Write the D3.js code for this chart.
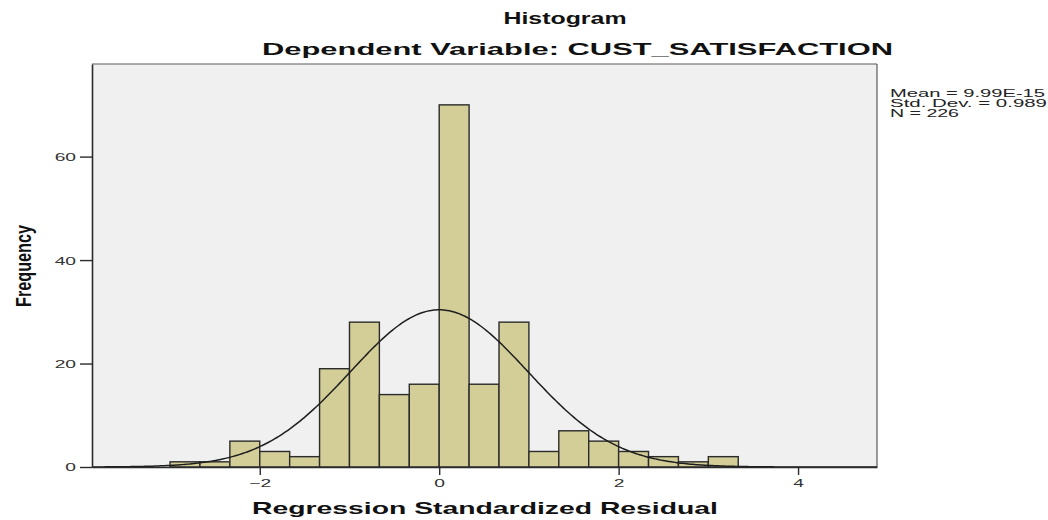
<!DOCTYPE html>
<html>
<head>
<meta charset="utf-8">
<script src="https://cdn.jsdelivr.net/npm/d3@7"></script>
<style>
  body { margin: 0; background: #fff; }
  svg { display: block; }
  text { font-family: "Liberation Sans", Arial, sans-serif; }
</style>
</head>
<body>
<svg id="chart" width="1048" height="520"></svg>
<script>
// ---- data ----
const binStarts = [-3, -8/3, -7/3, -2, -5/3, -4/3, -1, -2/3, -1/3, 0, 1/3, 2/3, 1, 4/3, 5/3, 2, 7/3, 8/3, 3];
const binWidth = 1/3;
const frequencies = [1, 1, 5, 3, 2, 19, 28, 14, 16, 70, 16, 28, 3, 7, 5, 3, 2, 1, 2];
const xTicks = [-2, 0, 2, 4];
const yTicks = [0, 20, 40, 60];
const statMean = 9.99e-15;
const statSD = 0.989;
const statN = 226;
const legendLines = ["Mean = 9.99E-15", "Std. Dev. = 0.989", "N = 226"];
const titleText = "Histogram";
const subtitleText = "Dependent Variable: CUST_SATISFACTION";
const xTitle = "Regression Standardized Residual";
const yTitle = "Frequency";

// ---- layout ----
const L = 92, R = 877, T = 64, B = 467;
const svg = d3.select("#chart");
const x = d3.scaleLinear().domain([-3.87, 4.88]).range([L, R]);
const y = d3.scaleLinear().domain([0, 77.9]).range([B, T]);
const SX = 1.75; // horizontal stretch of glyphs

// plot background
svg.append("rect").attr("x", L).attr("y", T).attr("width", R - L).attr("height", B - T)
  .attr("fill", "#f0f0f0");
svg.append("line").attr("x1", L).attr("x2", R).attr("y1", T).attr("y2", T)
  .attr("stroke", "#5a5a5a").attr("stroke-width", 1.2);
svg.append("line").attr("x1", R).attr("x2", R).attr("y1", T).attr("y2", B)
  .attr("stroke", "#5a5a5a").attr("stroke-width", 1.2);

// bars
svg.append("g").selectAll("rect").data(frequencies).join("rect")
  .attr("x", (d, i) => x(binStarts[i]))
  .attr("width", (d, i) => x(binStarts[i] + binWidth) - x(binStarts[i]))
  .attr("y", d => y(d))
  .attr("height", d => B - y(d))
  .attr("fill", "#d3ce98")
  .attr("stroke", "#2b2b2b")
  .attr("stroke-width", 1.4);

// normal curve
const pts = d3.range(0, 401).map(i => {
  const xv = x.domain()[0] + (x.domain()[1] - x.domain()[0]) * i / 400;
  const z = (xv - statMean) / statSD;
  const yv = statN * binWidth * Math.exp(-0.5 * z * z) / (statSD * Math.sqrt(2 * Math.PI));
  return [xv, yv];
});
svg.append("path").datum(pts)
  .attr("d", d3.line().x(d => x(d[0])).y(d => y(d[1])))
  .attr("fill", "none").attr("stroke", "#1e1e1e").attr("stroke-width", 1.5);

// axes
const xAxis = svg.append("g").attr("transform", `translate(0,${B})`)
  .call(d3.axisBottom(x).tickValues(xTicks).tickFormat(d3.format("d")).tickSize(8).tickSizeOuter(0));
const yAxis = svg.append("g").attr("transform", `translate(${L},0)`)
  .call(d3.axisLeft(y).tickValues(yTicks).tickFormat(d3.format("d")).tickSize(12).tickSizeOuter(0));

[xAxis, yAxis].forEach(a => {
  a.select(".domain").attr("stroke", "#2b2b2b").attr("stroke-width", 1.6);
  a.selectAll(".tick line").attr("stroke", "#2b2b2b").attr("stroke-width", 1.4);
  a.selectAll(".tick text").attr("fill", "#333").attr("font-size", 11)
    .attr("font-family", "'Liberation Sans', Arial, sans-serif");
});
xAxis.selectAll(".tick text").attr("y", 20).attr("dy", 0)
  .attr("transform", `scale(${SX},1)`);
yAxis.selectAll(".tick text").attr("x", -16 / SX).attr("dy", "0.36em")
  .attr("transform", `scale(${SX},1)`);

// titles
svg.append("text").attr("x", 565).attr("y", 24).attr("text-anchor", "middle")
  .attr("font-size", 17).attr("font-weight", "bold").attr("fill", "#111")
  .attr("textLength", 123).attr("lengthAdjust", "spacingAndGlyphs").text(titleText);
svg.append("text").attr("x", 577.5).attr("y", 55).attr("text-anchor", "middle")
  .attr("font-size", 17).attr("font-weight", "bold").attr("fill", "#111")
  .attr("textLength", 631).attr("lengthAdjust", "spacingAndGlyphs").text(subtitleText);
svg.append("text").attr("x", 485).attr("y", 514).attr("text-anchor", "middle")
  .attr("font-size", 17).attr("font-weight", "bold").attr("fill", "#111")
  .attr("textLength", 466).attr("lengthAdjust", "spacingAndGlyphs").text(xTitle);
svg.append("text").attr("transform", "translate(31,266) rotate(-90)")
  .attr("text-anchor", "middle")
  .attr("font-size", 22).attr("font-weight", "bold").attr("fill", "#111")
  .attr("textLength", 82).attr("lengthAdjust", "spacingAndGlyphs").text(yTitle);

// stats legend
const legendLens = [155, 157, 69];
svg.append("g").selectAll("text").data(legendLines).join("text")
  .attr("x", 890).attr("y", (d, i) => 96.7 + i * 10.2)
  .attr("font-size", 11).attr("fill", "#222")
  .attr("textLength", (d, i) => legendLens[i]).attr("lengthAdjust", "spacingAndGlyphs")
  .text(d => d);
</script>
</body>
</html>
